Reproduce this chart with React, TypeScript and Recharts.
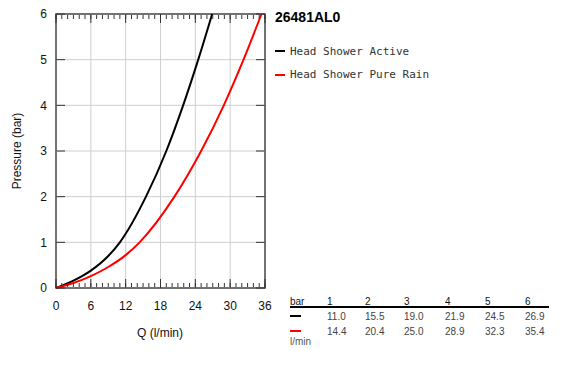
import {
  LineChart,
  Line,
  XAxis,
  YAxis,
  ReferenceArea,
  ReferenceLine,
} from "recharts";

const title = "26481AL0";

// flow (l/min) vs pressure (bar)
const activeQ = [0, 3, 6, 9, 11.0, 15.5, 19.0, 21.9, 24.5, 26.9];
const activeP = [0, 0.16, 0.38, 0.7, 1, 2, 3, 4, 5, 6];
const pureRainQ = [0, 3, 6, 9, 12, 14.4, 20.4, 25.0, 28.9, 32.3, 35.4];
const pureRainP = [0, 0.11, 0.26, 0.46, 0.72, 1, 2, 3, 4, 5, 6];

const seriesNames = ["Head Shower Active", "Head Shower Pure Rain"];
const seriesColors = ["#000000", "#ff0000"];

const qTicks = [0, 6, 12, 18, 24, 30, 36];
const qMinorTicks = [
  0, 1, 2, 3, 4, 5, 6, 7, 8, 9, 10, 11, 12, 13, 14, 15, 16, 17, 18, 19, 20,
  21, 22, 23, 24, 25, 26, 27, 28, 29, 30, 31, 32, 33, 34, 35, 36,
];
const pTicks = [0, 1, 2, 3, 4, 5, 6];

// table under the legend
const tableBars = ["1", "2", "3", "4", "5", "6"];
const tableActive = ["11.0", "15.5", "19.0", "21.9", "24.5", "26.9"];
const tablePureRain = ["14.4", "20.4", "25.0", "28.9", "32.3", "35.4"];

const activeData = activeQ.map((q, i) => ({ q, p: activeP[i] }));
const pureRainData = pureRainQ.map((q, i) => ({ q, p: pureRainP[i] }));

const font = "'Liberation Sans', Arial, sans-serif";
const tickColor = "#333";
const gridColor = "#cfcfd4";
const tableCols = [327, 365, 404, 445, 485, 525];
const LABEL_GAP = 13;

// mirrored axes only draw their inward tick marks
const NoLabel = () => <g />;

// labels only on the major q ticks
const QLabel = (props: any) => {
  const { x, y, payload } = props;
  if (payload.value % 6 !== 0) return <g />;
  return (
    <text
      x={x}
      y={y}
      dy="0.71em"
      textAnchor="middle"
      fill="#111"
      fontSize={12}
      fontFamily={font}
    >
      {payload.value}
    </text>
  );
};

const App = () => {
  return (
    <div
      style={{
        position: "absolute",
        left: 0,
        top: 0,
        width: 578,
        height: 381,
        background: "#fff",
        fontFamily: font,
      }}
    >
      <LineChart
        width={578}
        height={381}
        margin={{ top: 14, right: 313, bottom: 63, left: 16 }}
      >
        {qTicks.slice(1, -1).map((v) => (
          <ReferenceLine
            key={"gx" + v}
            xAxisId="main"
            yAxisId="main"
            x={v}
            stroke={gridColor}
          />
        ))}
        {pTicks.slice(1, -1).map((v) => (
          <ReferenceLine
            key={"gy" + v}
            xAxisId="main"
            yAxisId="main"
            y={v}
            stroke={gridColor}
          />
        ))}
        <XAxis
          xAxisId="main"
          dataKey="q"
          type="number"
          domain={[0, 36]}
          ticks={qMinorTicks}
          interval={0}
          height={30}
          tickLine={false}
          axisLine={false}
          tickSize={0}
          tickMargin={LABEL_GAP}
          tick={QLabel}
        />
        <XAxis xAxisId="botMinor" dataKey="q" type="number" domain={[0, 36]} allowDataOverflow ticks={qMinorTicks} interval={0} mirror height={1} tick={NoLabel} axisLine={false} tickSize={4} tickLine={{ stroke: tickColor }} />
        <XAxis xAxisId="botMajor" dataKey="q" type="number" domain={[0, 36]} allowDataOverflow ticks={qTicks} interval={0} mirror height={1} tick={NoLabel} axisLine={false} tickSize={9} tickLine={{ stroke: tickColor }} />
        <XAxis xAxisId="topMinor" dataKey="q" orientation="top" type="number" domain={[0, 36]} allowDataOverflow ticks={qMinorTicks} interval={0} mirror height={1} tick={NoLabel} axisLine={false} tickSize={4} tickLine={{ stroke: tickColor }} />
        <XAxis xAxisId="topMajor" dataKey="q" orientation="top" type="number" domain={[0, 36]} allowDataOverflow ticks={qTicks} interval={0} mirror height={1} tick={NoLabel} axisLine={false} tickSize={9} tickLine={{ stroke: tickColor }} />
        <YAxis
          yAxisId="main"
          type="number"
          domain={[0, 6]}
          ticks={pTicks}
          interval={0}
          width={40}
          tickLine={false}
          axisLine={false}
          tickSize={4}
          tickMargin={5}
          tick={{ fill: "#111", fontSize: 12, fontFamily: font }}
        />
        <YAxis yAxisId="leftTicks" type="number" domain={[0, 6]} allowDataOverflow ticks={pTicks} interval={0} mirror tick={NoLabel} axisLine={false} tickSize={9} tickLine={{ stroke: tickColor }} />
        <YAxis yAxisId="rightTicks" orientation="right" type="number" domain={[0, 6]} allowDataOverflow ticks={pTicks} interval={0} mirror tick={NoLabel} axisLine={false} tickSize={9} tickLine={{ stroke: tickColor }} />
        <ReferenceArea
          xAxisId="main"
          yAxisId="main"
          x1={0}
          x2={36}
          y1={0}
          y2={6}
          fill="none"
          fillOpacity={0}
          stroke="#444"
          strokeWidth={1.5}
        />
        <Line
          xAxisId="main"
          yAxisId="main"
          data={activeData}
          dataKey="p"
          type="monotone"
          stroke={seriesColors[0]}
          strokeWidth={2}
          dot={false}
          isAnimationActive={false}
        />
        <Line
          xAxisId="main"
          yAxisId="main"
          data={pureRainData}
          dataKey="p"
          type="monotone"
          stroke={seriesColors[1]}
          strokeWidth={2}
          dot={false}
          isAnimationActive={false}
        />
      </LineChart>

      {/* axis titles */}
      <div
        style={{
          position: "absolute",
          left: 17,
          top: 151,
          transform: "translate(-50%, -50%) rotate(-90deg)",
          fontSize: 12,
          color: "#111",
          whiteSpace: "nowrap",
        }}
      >
        Pressure (bar)
      </div>
      <div
        style={{
          position: "absolute",
          left: 160,
          top: 333,
          transform: "translate(-50%, -50%)",
          fontSize: 12,
          color: "#111",
          whiteSpace: "nowrap",
        }}
      >
        Q (l/min)
      </div>

      {/* title + legend */}
      <div
        style={{
          position: "absolute",
          left: 275,
          top: 8,
          fontSize: 14,
          fontWeight: "bold",
          color: "#000",
          lineHeight: "18px",
        }}
      >
        {title}
      </div>
      {seriesNames.map((name, i) => (
        <div
          key={name}
          style={{
            position: "absolute",
            left: 275,
            top: 43 + i * 23.5,
            height: 16,
            display: "flex",
            alignItems: "center",
          }}
        >
          <div style={{ width: 10, height: 2, background: seriesColors[i] }} />
          <span
            style={{
              marginLeft: 5,
              fontFamily: "'DejaVu Sans Mono', monospace",
              fontSize: 11,
              color: "#333",
              whiteSpace: "nowrap",
            }}
          >
            {name}
          </span>
        </div>
      ))}

      {/* flow table */}
      <div style={{ position: "absolute", left: 290, top: 296, fontSize: 10, color: "#111" }}>
        bar
      </div>
      {tableBars.map((b, i) => (
        <div key={"b" + b} style={{ position: "absolute", left: tableCols[i], top: 296, fontSize: 10, color: "#111" }}>
          {b}
        </div>
      ))}
      <div style={{ position: "absolute", left: 290, top: 306, width: 259, height: 2, background: "#000" }} />
      <div style={{ position: "absolute", left: 290, top: 315, width: 11, height: 2, background: seriesColors[0] }} />
      {tableActive.map((v, i) => (
        <div key={"a" + i} style={{ position: "absolute", left: tableCols[i], top: 311, fontSize: 10, color: "#444" }}>
          {v}
        </div>
      ))}
      <div style={{ position: "absolute", left: 290, top: 330, width: 11, height: 2, background: seriesColors[1] }} />
      {tablePureRain.map((v, i) => (
        <div key={"r" + i} style={{ position: "absolute", left: tableCols[i], top: 326, fontSize: 10, color: "#444" }}>
          {v}
        </div>
      ))}
      <div style={{ position: "absolute", left: 290, top: 336, fontSize: 10, color: "#555" }}>
        l/min
      </div>
    </div>
  );
};

export default App;
